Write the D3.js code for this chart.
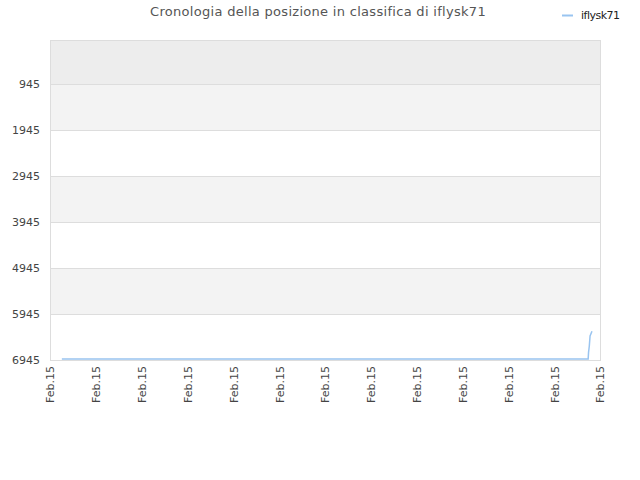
<!DOCTYPE html>
<html>
<head>
<meta charset="utf-8">
<script src="https://cdn.jsdelivr.net/npm/d3@7"></script>
<style>
  body { margin: 0; background: #fff; }
  svg { font-family: "DejaVu Sans", sans-serif; }
</style>
</head>
<body>
<svg id="chart" width="640" height="480"></svg>
<script>
// minutes elapsed on Feb 15 and ranking position
var minutes = [31, 400, 800, 1200, 1409, 1410, 1412, 1414, 1419];
var positions = [6925, 6925, 6925, 6925, 6925, 6780, 6640, 6420, 6320];
var yTicks = [945, 1945, 2945, 3945, 4945, 5945, 6945];
var xTickLabels = ["Feb.15", "Feb.15", "Feb.15", "Feb.15", "Feb.15", "Feb.15", "Feb.15",
  "Feb.15", "Feb.15", "Feb.15", "Feb.15", "Feb.15", "Feb.15"];
var seriesName = "iflysk71";
var title = "Cronologia della posizione in classifica di iflysk71";

var margin = { top: 40, right: 40, bottom: 120, left: 50 };
var width = 640 - margin.left - margin.right;
var height = 480 - margin.top - margin.bottom;

var svg = d3.select('#chart');
var g = svg.append('g').attr('transform', 'translate(' + margin.left + ',' + margin.top + ')');

var x = d3.scaleLinear().domain([0, 1440]).range([0, width]);
var y = d3.scaleLinear().domain([-11, 6945]).range([0, height]);

// background bands between grid lines
var edges = [-11].concat(yTicks);
var bandFill = ['#ededed', '#f3f3f3', '#ffffff', '#f3f3f3', '#ffffff', '#f3f3f3', '#ffffff'];
g.selectAll('rect.band')
  .data(d3.pairs(edges))
  .enter()
  .append('rect')
  .attr('class', 'band')
  .attr('x', 0)
  .attr('width', width)
  .attr('y', function (d) { return y(d[0]); })
  .attr('height', function (d) { return y(d[1]) - y(d[0]); })
  .style('fill', function (d, i) { return bandFill[i]; });

// grid lines
g.selectAll('line.grid')
  .data(yTicks)
  .enter()
  .append('line')
  .attr('class', 'grid')
  .attr('x1', 0).attr('x2', width)
  .attr('y1', function (d) { return Math.round(y(d)) + 0.5; })
  .attr('y2', function (d) { return Math.round(y(d)) + 0.5; })
  .style('stroke', '#dddddd');

// plot frame
g.append('rect')
  .attr('x', 0.5).attr('y', 0.5)
  .attr('width', width).attr('height', height)
  .style('fill', 'none')
  .style('stroke', '#dddddd');

// y axis labels
var yAxis = d3.axisLeft(y).tickValues(yTicks).tickSize(0).tickPadding(10).tickFormat(d3.format('d'));
var yg = g.append('g').call(yAxis);
yg.select('.domain').remove();
yg.selectAll('text').style('font-size', '11px').style('fill', '#444')
  .style('font-family', '"DejaVu Sans", sans-serif');

// x axis labels
var xTickVals = d3.range(xTickLabels.length).map(function (i) { return i * 1440 / (xTickLabels.length - 1); });
var xAxis = d3.axisBottom(x).tickValues(xTickVals).tickSize(0)
  .tickFormat(function (d, i) { return xTickLabels[i]; });
var xg = g.append('g').attr('transform', 'translate(0,' + height + ')').call(xAxis);
xg.select('.domain').remove();
xg.selectAll('text')
  .style('font-size', '11px').style('fill', '#444')
  .style('font-family', '"DejaVu Sans", sans-serif')
  .attr('text-anchor', 'end')
  .attr('transform', 'rotate(-90)')
  .attr('x', -6)
  .attr('y', 0)
  .attr('dy', '0.35em');

// series line
var line = d3.line()
  .x(function (d, i) { return x(minutes[i]); })
  .y(function (d) { return y(d); });
g.append('path')
  .datum(positions)
  .attr('d', line)
  .style('fill', 'none')
  .style('stroke', '#99c4f0')
  .style('stroke-width', 1.5);

// title
svg.append('text')
  .attr('x', 318).attr('y', 16)
  .attr('text-anchor', 'middle')
  .style('font-size', '13px')
  .style('fill', '#555')
  .style('letter-spacing', '0.3px')
  .text(title);

// legend
svg.append('line')
  .attr('x1', 562).attr('x2', 573)
  .attr('y1', 15.5).attr('y2', 15.5)
  .style('stroke', '#99c4f0')
  .style('stroke-width', 2);
svg.append('text')
  .attr('x', 581).attr('y', 19)
  .style('font-size', '11px')
  .style('fill', '#222')
  .style('letter-spacing', '-0.5px')
  .text(seriesName);
</script>
</body>
</html>
